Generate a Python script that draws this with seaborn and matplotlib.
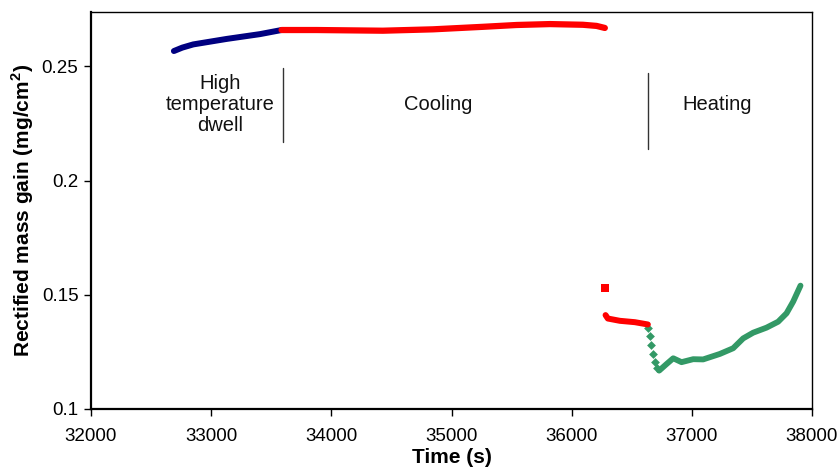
import matplotlib
matplotlib.use("Agg")
import matplotlib.pyplot as plt
import seaborn as sns
import pandas as pd

# ---- data ----
dwell_t = [32690, 32760, 32851, 33129, 33406, 33586]
dwell_m = [0.2567, 0.2582, 0.2596, 0.2620, 0.2641, 0.2659]

cool_t = [33586, 33877, 34429, 34845, 35261, 35541, 35819, 36093, 36207, 36276]
cool_m = [0.2659, 0.2659, 0.2656, 0.2662, 0.2673, 0.2681, 0.2685, 0.2682, 0.2677, 0.2668]

jump_t = [36276]
jump_m = [0.1531]

cool_low_t = [36282, 36301, 36401, 36526, 36634]
cool_low_m = [0.1411, 0.1396, 0.1386, 0.1380, 0.1370]

heat_drop_t = [36636, 36651, 36663, 36679, 36696, 36713]
heat_drop_m = [0.1355, 0.1318, 0.1280, 0.1242, 0.1206, 0.1178]

heat_t = [36728, 36790, 36845, 36914, 37011, 37094, 37233, 37344, 37427, 37510,
          37621, 37718, 37788, 37843, 37904]
heat_m = [0.1168, 0.1197, 0.1222, 0.1205, 0.1218, 0.1217, 0.1241, 0.1266, 0.1309,
          0.1334, 0.1356, 0.1382, 0.1419, 0.1470, 0.1540]

phase_labels = ["High\ntemperature\ndwell", "Cooling", "Heating"]
phase_label_t = [33073, 34887, 37208]
phase_label_m = [0.2332, 0.2334, 0.2334]
divider_t = [33600, 36631]
divider_lo = [0.2169, 0.2137]
divider_hi = [0.2493, 0.2469]

xticks = [32000, 33000, 34000, 35000, 36000, 37000, 38000]
yticks = [0.1, 0.15, 0.2, 0.25]
ytick_labels = ["0.1", "0.15", "0.2", "0.25"]

BLUE = "#000080"
RED = "#FF0000"
GREEN = "#339966"

sns.set_theme(style="white")
plt.rcParams["font.family"] = ["Liberation Sans", "DejaVu Sans"]
plt.rcParams["mathtext.fontset"] = "custom"
plt.rcParams["mathtext.rm"] = "Liberation Sans"
plt.rcParams["mathtext.bf"] = "Liberation Sans:bold"

fig = plt.figure(figsize=(8.4, 4.72), dpi=100)
ax = fig.add_axes([0.1083, 0.1335, 0.9667 - 0.1083, 0.9756 - 0.1335])

def line(t, m, color, lw):
    df = pd.DataFrame({"t": t, "m": m})
    sns.lineplot(data=df, x="t", y="m", ax=ax, color=color, linewidth=lw,
                 sort=False, estimator=None, solid_capstyle="round",
                 solid_joinstyle="round")

line(dwell_t, dwell_m, BLUE, 4.3)
line(cool_t, cool_m, RED, 4.5)
line(cool_low_t, cool_low_m, RED, 4.3)
line(heat_t, heat_m, GREEN, 4.2)

sns.scatterplot(x=jump_t, y=jump_m, ax=ax, color=RED, marker="s", s=28, linewidth=0)
sns.scatterplot(x=heat_drop_t, y=heat_drop_m, ax=ax, color=GREEN, marker="D",
                s=20, linewidth=0)

for lab, t, m in zip(phase_labels, phase_label_t, phase_label_m):
    ax.text(t, m, lab, ha="center", va="center", fontsize=14.5, color="#111111",
            linespacing=1.15)
for t, lo, hi in zip(divider_t, divider_lo, divider_hi):
    ax.plot([t, t], [lo, hi], color="#333333", linewidth=1.0)

ax.set_xlim(32000, 38000)
ax.set_ylim(0.1, 0.274)
ax.set_xticks(xticks)
ax.set_xticklabels([str(v) for v in xticks])
ax.set_yticks(yticks)
ax.set_yticklabels(ytick_labels)
ax.tick_params(axis="both", which="major", direction="out", length=5, width=1,
               color="black", labelsize=13.5, labelcolor="black",
               bottom=True, left=True, pad=4)
ax.tick_params(axis="x", pad=9)

for side in ["top", "right"]:
    ax.spines[side].set_color("black")
    ax.spines[side].set_linewidth(1.0)
for side in ["left", "bottom"]:
    ax.spines[side].set_color("black")
    ax.spines[side].set_linewidth(1.6)

ax.set_xlabel("Time (s)", fontsize=15, fontweight="bold", color="black", labelpad=2)
ax.set_ylabel(r"Rectified mass gain (mg/cm$^{\mathbf{2}}$)", fontsize=15,
              fontweight="bold", color="black", labelpad=4)

fig.savefig("out.png", dpi=100)
